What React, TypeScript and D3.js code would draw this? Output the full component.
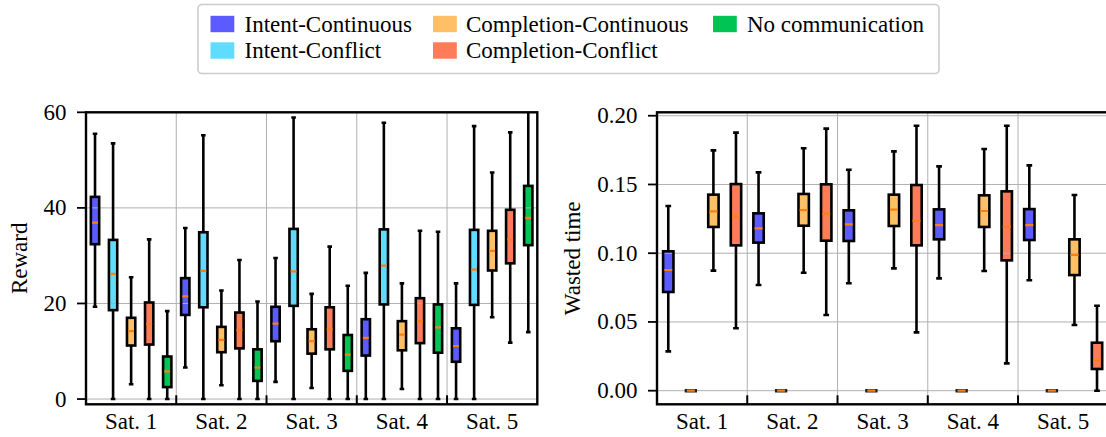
import React from 'react';
import * as d3 from 'd3';

// categories and series
const satellites = ['Sat. 1', 'Sat. 2', 'Sat. 3', 'Sat. 4', 'Sat. 5'];
const seriesNames = ['Intent-Continuous', 'Intent-Conflict', 'Completion-Continuous', 'Completion-Conflict', 'No communication'];
const seriesColors = ['#5b5bff', '#5fdcff', '#ffbf66', '#ff7b59', '#00c554'];

// box stats per satellite: [low whisker, q1, median, q3, high whisker]
const rewardIntentCont = [[19.3, 32.4, 36.9, 42.3, 55.5], [6.6, 17.6, 21.5, 25.3, 35.8], [3.6, 12.1, 15.8, 19.3, 29.5], [0, 9.1, 12.8, 16.7, 26.4], [0, 7.8, 11.1, 14.8, 24.2]];
const rewardIntentConf = [[0, 18.6, 26.2, 33.3, 53.5], [0, 19.2, 26.8, 34.9, 55.2], [0, 19.5, 26.7, 35.6, 58.9], [0, 19.8, 27.9, 35.5, 57.8], [0, 19.7, 27.1, 35.4, 57.1]];
const rewardComplCont = [[3.1, 11.2, 14.2, 17.0, 25.5], [2.9, 9.8, 12.4, 15.1, 22.7], [2.3, 9.5, 12.1, 14.6, 22.0], [2.1, 10.2, 13.5, 16.3, 24.2], [17.1, 26.9, 31.0, 35.2, 47.4]];
const rewardComplConf = [[0, 11.4, 15.7, 20.2, 33.4], [0, 10.6, 14.4, 18.1, 29.1], [0, 10.4, 14.6, 19.2, 31.9], [0, 11.7, 16.3, 21.1, 35.2], [11.8, 28.4, 33.4, 39.6, 55.8]];
const rewardNoComm = [[0, 2.5, 5.8, 8.9, 18.4], [0, 3.8, 6.6, 10.4, 20.4], [0, 5.9, 9.3, 13.4, 23.7], [0, 9.7, 15.0, 19.8, 35.0], [14.0, 32.2, 37.9, 44.6, 63]];

const wastedIntentCont = [[0.0286, 0.0718, 0.0878, 0.1014, 0.1343], [0.0769, 0.1077, 0.1181, 0.129, 0.1588], [0.0781, 0.1089, 0.121, 0.1312, 0.1607], [0.0817, 0.1101, 0.1205, 0.1319, 0.1632], [0.0803, 0.1096, 0.1205, 0.1321, 0.1639]];
const wastedIntentConf = [[0, 0, 0, 0, 0], [0, 0, 0, 0, 0], [0, 0, 0, 0, 0], [0, 0, 0, 0, 0], [0, 0, 0, 0, 0]];
const wastedComplCont = [[0.0873, 0.1191, 0.1305, 0.1426, 0.1748], [0.0858, 0.12, 0.1314, 0.1431, 0.1763], [0.089, 0.1198, 0.1317, 0.1426, 0.1741], [0.0871, 0.1191, 0.1307, 0.1421, 0.1758], [0.0478, 0.0841, 0.0987, 0.1101, 0.1423]];
const wastedComplConf = [[0.0454, 0.1057, 0.1268, 0.1503, 0.1877], [0.0551, 0.1091, 0.1287, 0.1501, 0.1906], [0.0424, 0.1057, 0.1236, 0.1496, 0.1927], [0.0199, 0.0948, 0.1191, 0.145, 0.1927], [0, 0.0158, 0.0221, 0.0349, 0.0618]];

const rewardTicks = [0, 20, 40, 60];
const wastedTicks = [0, 0.05, 0.1, 0.15, 0.2];

const FONT = "'Liberation Serif', Tinos, 'Times New Roman', Times, 'DejaVu Serif', serif";
const FS = 23;
const LW = 2.6;

type Panel = {
  id: string;
  left: number;
  right: number;
  top: number;
  bottom: number;
  domain: [number, number];
  ticks: number[];
  fmt: (v: number) => string;
  label: string;
  labelX: number;
  series: number[]; // indexes into seriesNames
  data: number[][][];
};

const panels: Panel[] = [
  {
    id: 'reward', left: 86, right: 537.3, top: 112.3, bottom: 404.3,
    domain: [-1.1, 60], ticks: rewardTicks, fmt: d3.format('d'),
    label: 'Reward', labelX: 19,
    series: [0, 1, 2, 3, 4],
    data: [rewardIntentCont, rewardIntentConf, rewardComplCont, rewardComplConf, rewardNoComm],
  },
  {
    id: 'wasted', left: 657, right: 1108.3, top: 112.3, bottom: 404.3,
    domain: [-0.0099, 0.2025], ticks: wastedTicks, fmt: d3.format('.2f'),
    label: 'Wasted time', labelX: 572.5,
    series: [0, 1, 2, 3],
    data: [wastedIntentCont, wastedIntentConf, wastedComplCont, wastedComplConf],
  },
];

const BoxPanel = ({ p }: { p: Panel }) => {
  const y = d3.scaleLinear().domain(p.domain).range([p.bottom, p.top]);
  const xg = d3.scaleBand<string>().domain(satellites).range([p.left, p.right]).padding(0);
  const xs = d3.scaleBand<number>().domain(p.series).range([0, xg.bandwidth()]).padding(0);
  const bw = xs.bandwidth() * 0.46;
  const cap = bw * 0.55;
  const boundaries = satellites.slice(1).map(s => xg(s)!);

  const boxes = p.series.flatMap((si, k) =>
    satellites.map((s, gi) => {
      const [lo, q1, med, q3, hi] = p.data[k][gi];
      const cx = xg(s)! + xs(si)! + xs.bandwidth() / 2;
      return { key: `${si}-${gi}`, si, cx, lo, q1, med, q3, hi };
    })
  );

  return (
    <g>
      <defs>
        <clipPath id={`clip-${p.id}`}>
          <rect x={p.left} y={p.top} width={p.right - p.left} height={p.bottom - p.top} />
        </clipPath>
      </defs>
      <g clipPath={`url(#clip-${p.id})`}>
        {/* box fills */}
        {boxes.map(b => (
          <rect key={'f' + b.key} x={b.cx - bw / 2} y={y(b.q3)} width={bw}
            height={Math.max(0, y(b.q1) - y(b.q3))} fill={seriesColors[b.si]} />
        ))}
        {/* grid */}
        {p.ticks.map(t => (
          <line key={'gy' + t} x1={p.left} x2={p.right} y1={y(t)} y2={y(t)} stroke="#b0b0b0" strokeWidth={1} />
        ))}
        {boundaries.map((bx, i) => (
          <line key={'gx' + i} x1={bx} x2={bx} y1={p.top} y2={p.bottom} stroke="#b0b0b0" strokeWidth={1} />
        ))}
        {/* whiskers, caps, edges, medians */}
        {boxes.map(b => {
          const flat = y(b.q1) - y(b.q3) < 0.5;
          return (
            <g key={'b' + b.key}>
              <line x1={b.cx} x2={b.cx} y1={y(b.hi)} y2={y(b.q3)} stroke="#000" strokeWidth={LW} />
              <line x1={b.cx} x2={b.cx} y1={y(b.q1)} y2={y(b.lo)} stroke="#000" strokeWidth={LW} />
              <line x1={b.cx - cap / 2} x2={b.cx + cap / 2} y1={y(b.hi)} y2={y(b.hi)} stroke="#000" strokeWidth={LW} />
              <line x1={b.cx - cap / 2} x2={b.cx + cap / 2} y1={y(b.lo)} y2={y(b.lo)} stroke="#000" strokeWidth={LW} />
              {flat ? (
                <line x1={b.cx - bw / 2 - 1} x2={b.cx + bw / 2 + 1} y1={y(b.med)} y2={y(b.med)} stroke="#222" strokeWidth={3.6} />
              ) : (
                <rect x={b.cx - bw / 2} y={y(b.q3)} width={bw} height={y(b.q1) - y(b.q3)}
                  fill="none" stroke="#000" strokeWidth={LW} />
              )}
              <line x1={b.cx - bw / 2 + 1.2} x2={b.cx + bw / 2 - 1.2} y1={y(b.med)} y2={y(b.med)} stroke="#ff7f0e" strokeWidth={2.2} />
            </g>
          );
        })}
      </g>
      {/* inward x ticks at group boundaries */}
      {boundaries.map((bx, i) => (
        <line key={'tx' + i} x1={bx} x2={bx} y1={p.bottom} y2={p.bottom - 9} stroke="#000" strokeWidth={2} />
      ))}
      {/* spines */}
      <rect x={p.left} y={p.top} width={p.right - p.left} height={p.bottom - p.top} fill="none" stroke="#000" strokeWidth={2.4} />
      {/* y ticks */}
      {p.ticks.map(t => (
        <g key={'ty' + t}>
          <line x1={p.left - 9} x2={p.left} y1={y(t)} y2={y(t)} stroke="#000" strokeWidth={1.8} />
          <text x={p.left - 19.5} y={y(t)} textAnchor="end" dominantBaseline="central"
            style={{ fontFamily: FONT, fontSize: FS }}>{p.fmt(t)}</text>
        </g>
      ))}
      {/* x labels */}
      {satellites.map(s => (
        <text key={'xl' + s} x={xg(s)! + xg.bandwidth() / 2} y={429} textAnchor="middle"
          style={{ fontFamily: FONT, fontSize: FS }}>{s}</text>
      ))}
      <text transform={`translate(${p.labelX},${(p.top + p.bottom) / 2}) rotate(-90)`}
        textAnchor="middle" dominantBaseline="central" style={{ fontFamily: FONT, fontSize: FS }}>{p.label}</text>
    </g>
  );
};

const legendCols = [
  { patch: 210.5, text: 244.5 },
  { patch: 433, text: 466 },
  { patch: 713, text: 747 },
];
const legendRows = [24, 50.5];

const Legend = () => (
  <g>
    <rect x={198} y={4.5} width={741} height={69} rx={4} fill="#fff" stroke="#cccccc" strokeWidth={1.6} />
    {seriesNames.map((name, i) => {
      // ncol=3 fills column by column: 2 rows
      const col = Math.floor(i / 2);
      const row = i % 2;
      const c = legendCols[col];
      const cy = legendRows[row];
      return (
        <g key={name}>
          <rect x={c.patch} y={cy - 8.2} width={23.8} height={16.4} fill={seriesColors[i]} />
          <text x={c.text} y={cy} dominantBaseline="central" style={{ fontFamily: FONT, fontSize: FS }}>{name}</text>
        </g>
      );
    })}
  </g>
);

export default function App() {
  return (
    <svg width={1106} height={437} style={{ position: 'absolute', left: 0, top: 0, background: '#fff' }}>
      {panels.map(p => <BoxPanel key={p.id} p={p} />)}
      <Legend />
    </svg>
  );
}
